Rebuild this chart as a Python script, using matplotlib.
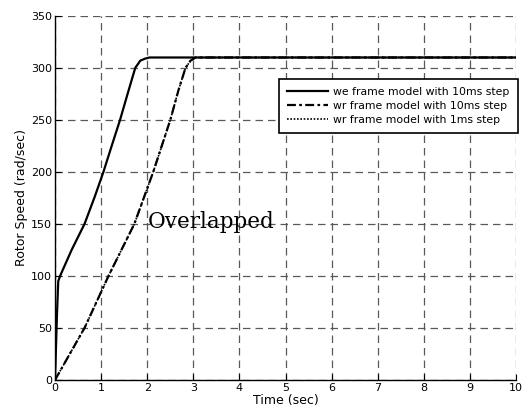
import numpy as np
import matplotlib.pyplot as plt

t_we = [0, 0.04, 0.07, 0.11, 0.36, 0.64, 0.86, 1.05, 1.2, 1.41, 1.6, 1.74, 1.85, 1.96, 2.05, 10]
w_we = [0, 60, 95, 100, 125, 150, 176, 200, 221, 250, 279, 300, 307, 309, 310, 310]

t_wr = [0, 0.64, 1.16, 1.72, 2.13, 2.5, 2.68, 2.83, 2.94, 3.05, 10]
w_wr = [0, 50, 100, 150, 200, 250, 279, 300, 307, 310, 310]

# 1ms step model lies on top of the 10ms one
t_wr1 = [0, 0.64, 1.16, 1.72, 2.13, 2.5, 2.68, 2.83, 2.94, 3.05, 10]
w_wr1 = [0, 50, 100, 150, 200, 250, 279, 300, 307, 310, 310]

labels = ["we frame model with 10ms step",
          "wr frame model with 10ms step",
          "wr frame model with 1ms step"]

fig = plt.figure(figsize=(5.24, 4.18), dpi=100)
ax = fig.add_axes([0.105, 0.091, 0.88, 0.871])

ax.plot(t_we, w_we, color='black', lw=1.6, label=labels[0])
ax.plot(t_wr, w_wr, color='black', lw=1.6, linestyle=(0, (4, 1.5, 1.2, 1.5)), label=labels[1])
ax.plot(t_wr1, w_wr1, color='black', lw=1.2, linestyle=(0, (1, 1)), label=labels[2])

ax.set_xlim(0, 10)
ax.set_ylim(0, 350)
ax.set_xticks(np.arange(0, 11, 1))
ax.set_yticks(np.arange(0, 351, 50))
ax.grid(True, color='0.35', linestyle=(0, (6, 4)), linewidth=0.9)
ax.tick_params(direction='in', length=4, labelsize=8, pad=2)
for s in ['top', 'right']:
    ax.spines[s].set_visible(False)
for s in ['left', 'bottom']:
    ax.spines[s].set_linewidth(1.0)

ax.set_xlabel("Time (sec)", fontsize=9, labelpad=1)
ax.set_ylabel("Rotor Speed (rad/sec)", fontsize=9, labelpad=2)

ax.text(2.02, 152, "Overlapped", fontsize=15.5, family='DejaVu Serif', va='center', ha='left')

leg = ax.legend(loc='upper right', bbox_to_anchor=(1.004, 0.827), fontsize=7.8,
                frameon=True, fancybox=False, edgecolor='black', handlelength=3.8,
                borderpad=0.75, labelspacing=0.38, handletextpad=0.5, borderaxespad=0)
leg.get_frame().set_linewidth(1.2)
leg.get_frame().set_alpha(1)

fig.savefig("out.png", dpi=100)
